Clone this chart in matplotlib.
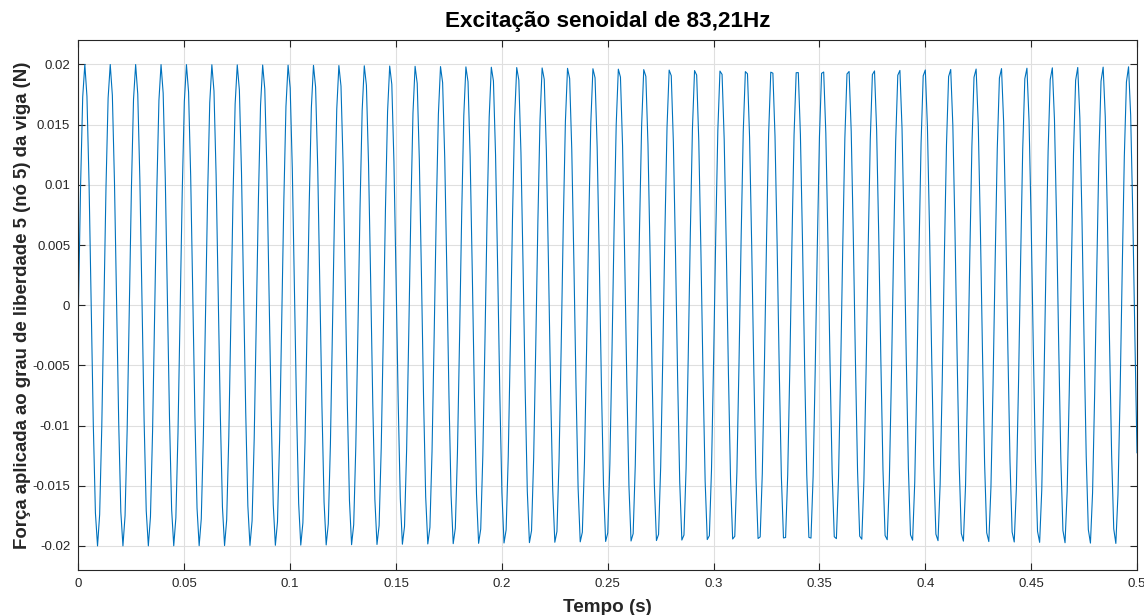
import numpy as np
import matplotlib
matplotlib.use("Agg")
import matplotlib.pyplot as plt
from matplotlib.ticker import FixedLocator, FixedFormatter

# Sinusoidal excitation applied at DOF 5 (node 5) of the beam
amplitude = 0.02        # N
frequency = 83.21       # Hz
dt = 0.001              # s, sample step
t_end = 0.5             # s

x_ticks = [0, 0.05, 0.1, 0.15, 0.2, 0.25, 0.3, 0.35, 0.4, 0.45, 0.5]
x_tick_labels = ["0", "0.05", "0.1", "0.15", "0.2", "0.25", "0.3", "0.35", "0.4", "0.45", "0.5"]
y_ticks = [-0.02, -0.015, -0.01, -0.005, 0, 0.005, 0.01, 0.015, 0.02]
y_tick_labels = ["-0.02", "-0.015", "-0.01", "-0.005", "0", "0.005", "0.01", "0.015", "0.02"]

t = np.arange(0, t_end + dt / 2, dt)
force = amplitude * np.sin(2 * np.pi * frequency * t)

plt.rcParams['font.family'] = ['Liberation Sans', 'DejaVu Sans']

fig = plt.figure(figsize=(11.44, 6.15), dpi=100)
ax = fig.add_axes([0.0686, 0.0732, 0.9253, 0.8611])

ax.plot(t, force, color="#0072BD", linewidth=0.8)

ax.set_xlim(0, 0.5)
ax.set_ylim(-0.022, 0.022)
ax.xaxis.set_major_locator(FixedLocator(x_ticks))
ax.xaxis.set_major_formatter(FixedFormatter(x_tick_labels))
ax.yaxis.set_major_locator(FixedLocator(y_ticks))
ax.yaxis.set_major_formatter(FixedFormatter(y_tick_labels))

ax.grid(True, color="#dfdfdf", linewidth=0.8)
ax.set_axisbelow(True)
for s in ax.spines.values():
    s.set_color("#262626")
    s.set_linewidth(0.8)
ax.tick_params(direction="in", length=5, width=0.8, color="#262626",
               labelcolor="#262626", labelsize=9.5, top=True, right=True, pad=6)

ax.set_title("Excitação senoidal de 83,21Hz", fontsize=16.2, fontweight="bold", pad=10)
ax.set_xlabel("Tempo (s)", fontsize=13.6, fontweight="bold", color="#262626", labelpad=6)
ax.set_ylabel("Força aplicada ao grau de liberdade 5 (nó 5) da viga (N)", fontsize=13.4,
              fontweight="bold", color="#262626", labelpad=1)

fig.savefig("out.png", dpi=100)
